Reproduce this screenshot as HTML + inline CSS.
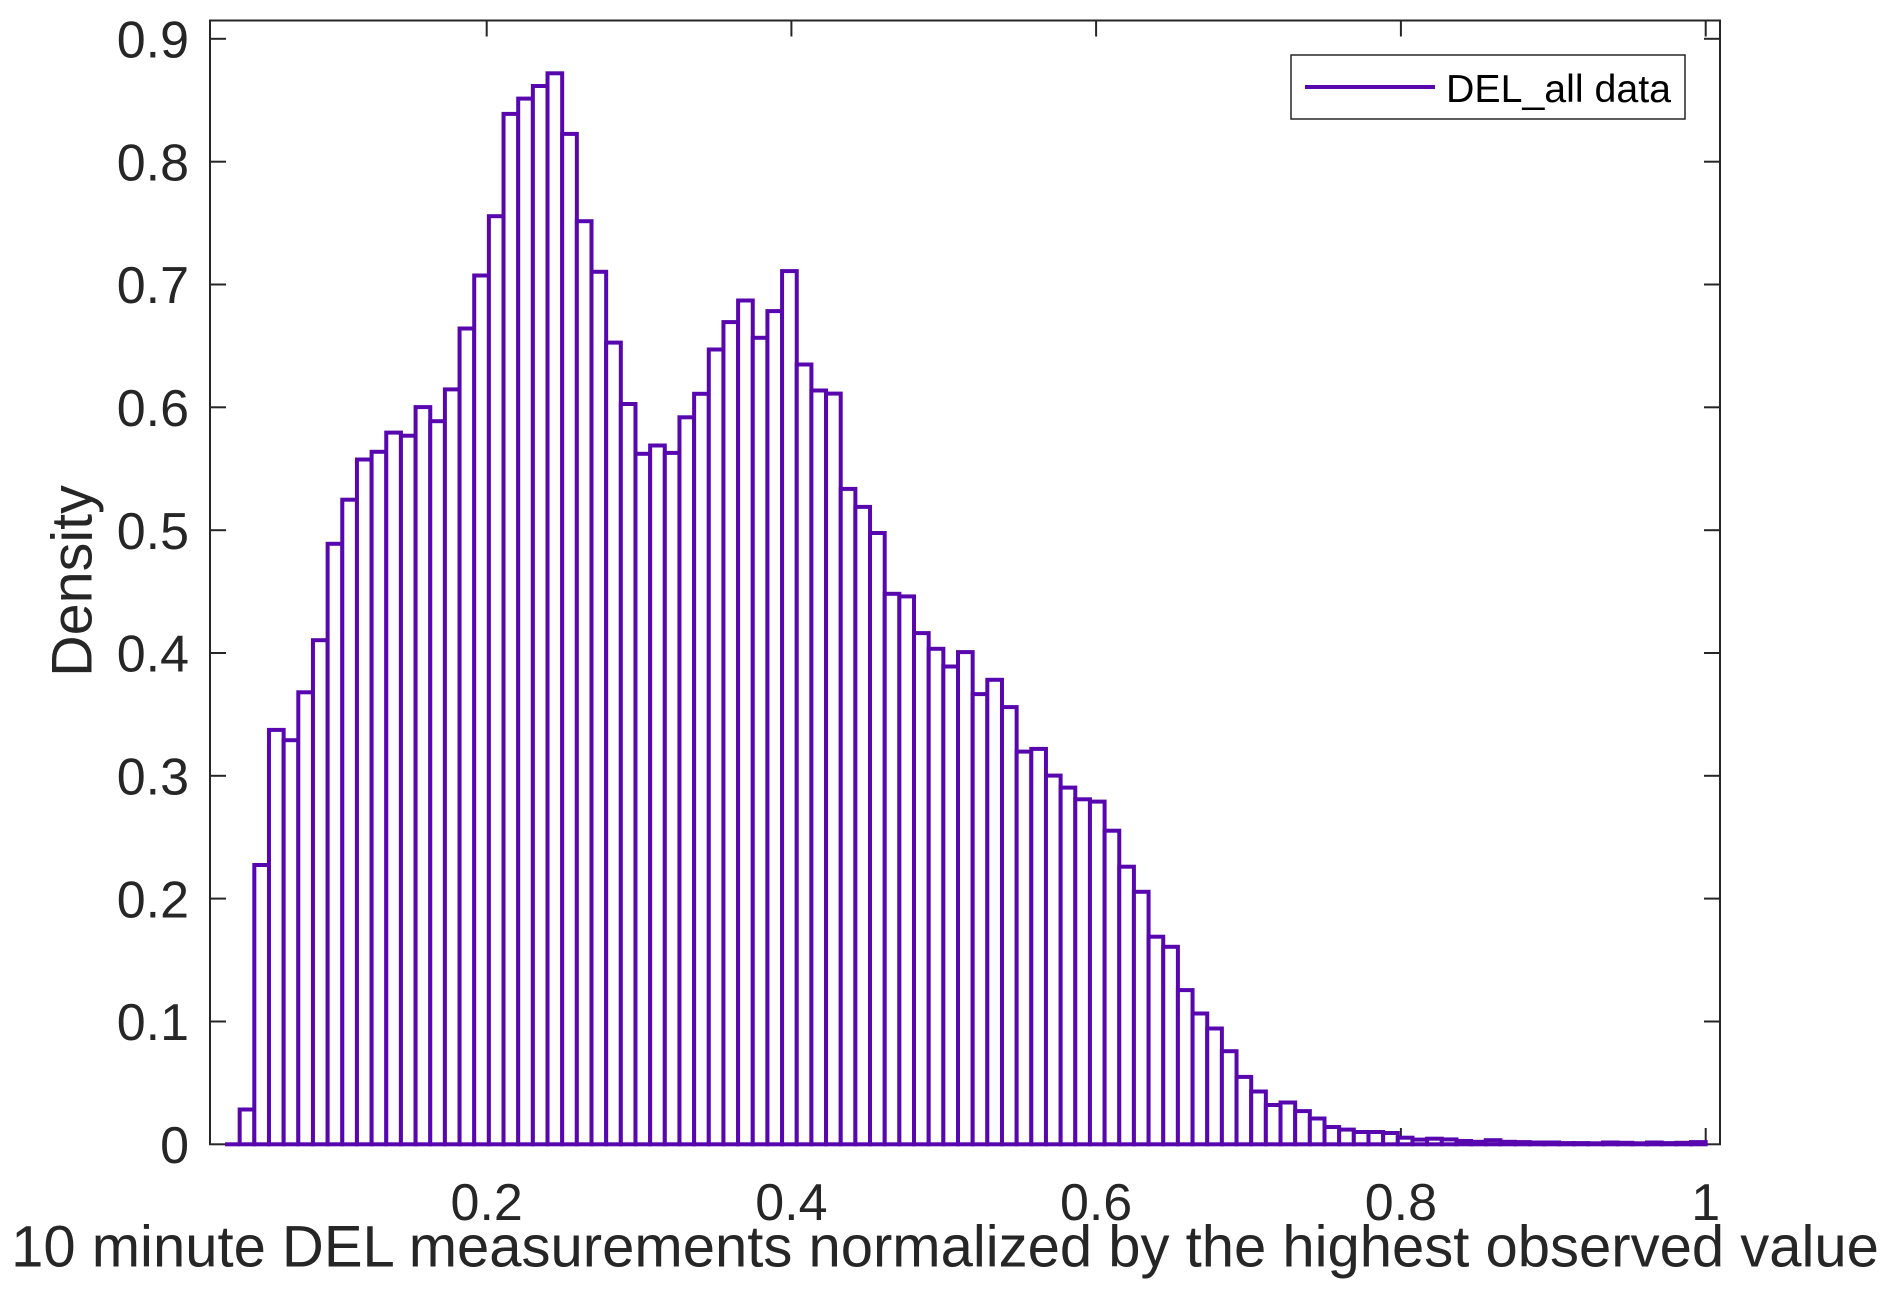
<!DOCTYPE html>
<html>
<head>
<meta charset="utf-8">
<style>
  html, body { margin: 0; padding: 0; background: #ffffff; }
  body { width: 1892px; height: 1298px; overflow: hidden; }
  svg { display: block; }
  text { font-family: "Liberation Sans", Arial, sans-serif; fill: #262626; }
</style>
</head>
<body>
<svg width="1892" height="1298" viewBox="0 0 1892 1298" xmlns="http://www.w3.org/2000/svg">
  <rect x="0" y="0" width="1892" height="1298" fill="#ffffff"/>

  <rect x="210" y="20.5" width="1510" height="1123.8" fill="none" stroke="#262626" stroke-width="2"/>

  <g stroke="#262626" stroke-width="2">
    <line x1="210" y1="1021.5" x2="226" y2="1021.5"/><line x1="1704" y1="1021.5" x2="1720" y2="1021.5"/>
    <line x1="210" y1="898.6" x2="226" y2="898.6"/><line x1="1704" y1="898.6" x2="1720" y2="898.6"/>
    <line x1="210" y1="775.8" x2="226" y2="775.8"/><line x1="1704" y1="775.8" x2="1720" y2="775.8"/>
    <line x1="210" y1="653.0" x2="226" y2="653.0"/><line x1="1704" y1="653.0" x2="1720" y2="653.0"/>
    <line x1="210" y1="530.2" x2="226" y2="530.2"/><line x1="1704" y1="530.2" x2="1720" y2="530.2"/>
    <line x1="210" y1="407.3" x2="226" y2="407.3"/><line x1="1704" y1="407.3" x2="1720" y2="407.3"/>
    <line x1="210" y1="284.5" x2="226" y2="284.5"/><line x1="1704" y1="284.5" x2="1720" y2="284.5"/>
    <line x1="210" y1="161.7" x2="226" y2="161.7"/><line x1="1704" y1="161.7" x2="1720" y2="161.7"/>
    <line x1="210" y1="38.8" x2="226" y2="38.8"/><line x1="1704" y1="38.8" x2="1720" y2="38.8"/>
    <line x1="486.7" y1="1144.3" x2="486.7" y2="1128"/><line x1="486.7" y1="20.5" x2="486.7" y2="36.5"/>
    <line x1="791.4" y1="1144.3" x2="791.4" y2="1128"/><line x1="791.4" y1="20.5" x2="791.4" y2="36.5"/>
    <line x1="1096.1" y1="1144.3" x2="1096.1" y2="1128"/><line x1="1096.1" y1="20.5" x2="1096.1" y2="36.5"/>
    <line x1="1400.9" y1="1144.3" x2="1400.9" y2="1128"/><line x1="1400.9" y1="20.5" x2="1400.9" y2="36.5"/>
    <line x1="1705.7" y1="1144.3" x2="1705.7" y2="1128"/><line x1="1705.7" y1="20.5" x2="1705.7" y2="36.5"/>
  </g>

  <g transform="translate(0,1144.3) scale(1,-1)" fill="#ffffff" stroke="#5806ae" stroke-width="4" stroke-linejoin="miter">
    <line x1="225" y1="0" x2="239.66" y2="0"/>
    <rect x="239.66" y="0" width="14.66" height="34.8"/>
    <rect x="254.32" y="0" width="14.66" height="279.3"/>
    <rect x="268.98" y="0" width="14.66" height="414.4"/>
    <rect x="283.64" y="0" width="14.66" height="404.1"/>
    <rect x="298.30" y="0" width="14.66" height="452.0"/>
    <rect x="312.96" y="0" width="14.66" height="504.1"/>
    <rect x="327.62" y="0" width="14.66" height="600.5"/>
    <rect x="342.28" y="0" width="14.66" height="644.6"/>
    <rect x="356.94" y="0" width="14.66" height="684.8"/>
    <rect x="371.60" y="0" width="14.66" height="692.5"/>
    <rect x="386.26" y="0" width="14.66" height="711.7"/>
    <rect x="400.92" y="0" width="14.66" height="708.6"/>
    <rect x="415.58" y="0" width="14.66" height="737.2"/>
    <rect x="430.24" y="0" width="14.66" height="723.1"/>
    <rect x="444.90" y="0" width="14.66" height="754.9"/>
    <rect x="459.56" y="0" width="14.66" height="815.8"/>
    <rect x="474.22" y="0" width="14.66" height="868.8"/>
    <rect x="488.88" y="0" width="14.66" height="928.1"/>
    <rect x="503.54" y="0" width="14.66" height="1030.4"/>
    <rect x="518.20" y="0" width="14.66" height="1045.7"/>
    <rect x="532.86" y="0" width="14.66" height="1058.3"/>
    <rect x="547.52" y="0" width="14.66" height="1071.0"/>
    <rect x="562.18" y="0" width="14.66" height="1010.4"/>
    <rect x="576.84" y="0" width="14.66" height="923.1"/>
    <rect x="591.50" y="0" width="14.66" height="872.5"/>
    <rect x="606.16" y="0" width="14.66" height="801.7"/>
    <rect x="620.82" y="0" width="14.66" height="740.3"/>
    <rect x="635.48" y="0" width="14.66" height="690.5"/>
    <rect x="650.14" y="0" width="14.66" height="698.8"/>
    <rect x="664.80" y="0" width="14.66" height="691.4"/>
    <rect x="679.46" y="0" width="14.66" height="727.0"/>
    <rect x="694.12" y="0" width="14.66" height="750.5"/>
    <rect x="708.78" y="0" width="14.66" height="794.8"/>
    <rect x="723.44" y="0" width="14.66" height="822.2"/>
    <rect x="738.10" y="0" width="14.66" height="843.8"/>
    <rect x="752.76" y="0" width="14.66" height="806.5"/>
    <rect x="767.42" y="0" width="14.66" height="833.2"/>
    <rect x="782.08" y="0" width="14.66" height="873.2"/>
    <rect x="796.74" y="0" width="14.66" height="779.8"/>
    <rect x="811.40" y="0" width="14.66" height="753.8"/>
    <rect x="826.06" y="0" width="14.66" height="750.7"/>
    <rect x="840.72" y="0" width="14.66" height="655.4"/>
    <rect x="855.38" y="0" width="14.66" height="637.4"/>
    <rect x="870.04" y="0" width="14.66" height="611.3"/>
    <rect x="884.70" y="0" width="14.66" height="550.5"/>
    <rect x="899.36" y="0" width="14.66" height="547.9"/>
    <rect x="914.02" y="0" width="14.66" height="511.2"/>
    <rect x="928.68" y="0" width="14.66" height="495.5"/>
    <rect x="943.34" y="0" width="14.66" height="477.8"/>
    <rect x="958.00" y="0" width="14.66" height="492.2"/>
    <rect x="972.66" y="0" width="14.66" height="450.2"/>
    <rect x="987.32" y="0" width="14.66" height="464.5"/>
    <rect x="1001.98" y="0" width="14.66" height="437.2"/>
    <rect x="1016.64" y="0" width="14.66" height="392.7"/>
    <rect x="1031.30" y="0" width="14.66" height="395.4"/>
    <rect x="1045.96" y="0" width="14.66" height="368.7"/>
    <rect x="1060.62" y="0" width="14.66" height="356.7"/>
    <rect x="1075.28" y="0" width="14.66" height="345.0"/>
    <rect x="1089.94" y="0" width="14.66" height="342.7"/>
    <rect x="1104.60" y="0" width="14.66" height="313.6"/>
    <rect x="1119.26" y="0" width="14.66" height="277.6"/>
    <rect x="1133.92" y="0" width="14.66" height="252.5"/>
    <rect x="1148.58" y="0" width="14.66" height="207.6"/>
    <rect x="1163.24" y="0" width="14.66" height="197.5"/>
    <rect x="1177.90" y="0" width="14.66" height="154.2"/>
    <rect x="1192.56" y="0" width="14.66" height="130.8"/>
    <rect x="1207.22" y="0" width="14.66" height="115.8"/>
    <rect x="1221.88" y="0" width="14.66" height="93.1"/>
    <rect x="1236.54" y="0" width="14.66" height="67.4"/>
    <rect x="1251.20" y="0" width="14.66" height="52.8"/>
    <rect x="1265.86" y="0" width="14.66" height="39.3"/>
    <rect x="1280.52" y="0" width="14.66" height="41.8"/>
    <rect x="1295.18" y="0" width="14.66" height="33.2"/>
    <rect x="1309.84" y="0" width="14.66" height="25.8"/>
    <rect x="1324.50" y="0" width="14.66" height="17.3"/>
    <rect x="1339.16" y="0" width="14.66" height="14.7"/>
    <rect x="1353.82" y="0" width="14.66" height="12.3"/>
    <rect x="1368.48" y="0" width="14.66" height="12.3"/>
    <rect x="1383.14" y="0" width="14.66" height="11.3"/>
    <rect x="1397.80" y="0" width="14.66" height="6.6"/>
    <rect x="1412.46" y="0" width="14.66" height="4.7"/>
    <rect x="1427.12" y="0" width="14.66" height="5.6"/>
    <rect x="1441.78" y="0" width="14.66" height="4.9"/>
    <rect x="1456.44" y="0" width="14.66" height="3.3"/>
    <rect x="1471.10" y="0" width="14.66" height="2.5"/>
    <rect x="1485.76" y="0" width="14.66" height="4.1"/>
    <rect x="1500.42" y="0" width="14.66" height="2.5"/>
    <rect x="1515.08" y="0" width="14.66" height="2.2"/>
    <rect x="1529.74" y="0" width="14.66" height="1.8"/>
    <rect x="1544.40" y="0" width="14.66" height="1.8"/>
    <rect x="1559.06" y="0" width="14.66" height="1.2"/>
    <rect x="1573.72" y="0" width="14.66" height="1.2"/>
    <rect x="1588.38" y="0" width="14.66" height="1.0"/>
    <rect x="1603.04" y="0" width="14.66" height="1.8"/>
    <rect x="1617.70" y="0" width="14.66" height="1.5"/>
    <rect x="1632.36" y="0" width="14.66" height="1.0"/>
    <rect x="1647.02" y="0" width="14.66" height="1.8"/>
    <rect x="1661.68" y="0" width="14.66" height="1.2"/>
    <rect x="1676.34" y="0" width="14.66" height="1.5"/>
    <rect x="1691.00" y="0" width="14.66" height="2.2"/>
  </g>

  <g font-size="52" text-anchor="end">
    <text x="189" y="1163.0">0</text>
    <text x="189" y="1040.2">0.1</text>
    <text x="189" y="917.3">0.2</text>
    <text x="189" y="794.5">0.3</text>
    <text x="189" y="671.7">0.4</text>
    <text x="189" y="548.9">0.5</text>
    <text x="189" y="426.0">0.6</text>
    <text x="189" y="303.2">0.7</text>
    <text x="189" y="180.4">0.8</text>
    <text x="189" y="57.5">0.9</text>
  </g>

  <g font-size="52" text-anchor="middle">
    <text x="486.7" y="1220">0.2</text>
    <text x="791.4" y="1220">0.4</text>
    <text x="1096.1" y="1220">0.6</text>
    <text x="1400.9" y="1220">0.8</text>
    <text x="1705.7" y="1220">1</text>
  </g>

  <text x="945" y="1266.5" font-size="58" text-anchor="middle">10 minute DEL measurements normalized by the highest observed value</text>
  <text transform="translate(91.5,581) rotate(-90)" x="0" y="0" font-size="57.5" text-anchor="middle">Density</text>

  <rect x="1291" y="55" width="394" height="64" fill="#ffffff" stroke="#262626" stroke-width="1.5"/>
  <line x1="1305" y1="87" x2="1435" y2="87" stroke="#5806ae" stroke-width="4"/>
  <text x="1446" y="102" font-size="39.3" style="fill:#000000">DEL_all data</text>
</svg>
</body>
</html>
